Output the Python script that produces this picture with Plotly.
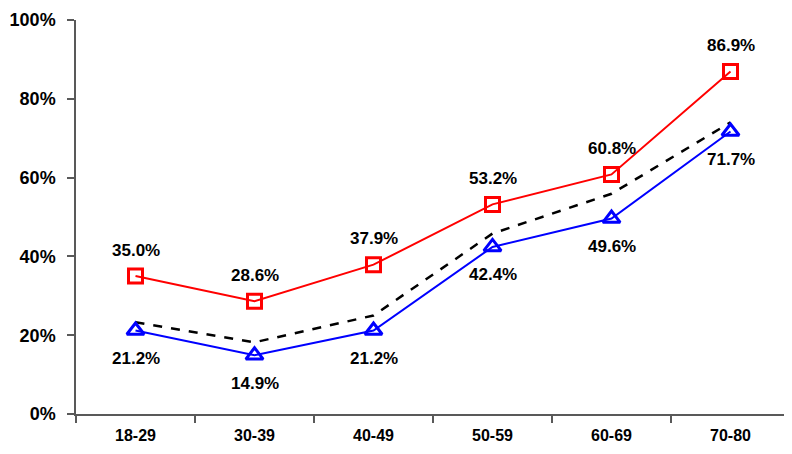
import plotly.graph_objects as go

categories = ["18-29", "30-39", "40-49", "50-59", "60-69", "70-80"]
red_values = [35.0, 28.6, 37.9, 53.2, 60.8, 86.9]
blue_values = [21.2, 14.9, 21.2, 42.4, 49.6, 71.7]
dashed_values = [23.3, 18.2, 25.0, 45.8, 55.9, 74.0]
y_ticks = [0, 20, 40, 60, 80, 100]

fig = go.Figure()
fig.add_trace(go.Scatter(
    x=categories, y=dashed_values, mode="lines",
    line=dict(color="black", width=2.5, dash="dash"), hoverinfo="skip"))
fig.add_trace(go.Scatter(
    x=categories, y=red_values, mode="lines+markers",
    line=dict(color="#FF0000", width=2),
    marker=dict(symbol="square-open", size=14, color="#FF0000", line=dict(width=3, color="#FF0000"))))
fig.add_trace(go.Scatter(
    x=categories, y=blue_values, mode="lines+markers",
    line=dict(color="#0000FF", width=2),
    marker=dict(symbol="triangle-up-open", size=15, color="#0000FF", line=dict(width=3, color="#0000FF"))))

lab_font = dict(family="Liberation Sans", size=17, color="black")
for c, v in zip(categories, red_values):
    fig.add_annotation(x=c, y=v, text=f"<b>{v:.1f}%</b>", showarrow=False, yshift=26, font=lab_font)
for c, v in zip(categories, blue_values):
    fig.add_annotation(x=c, y=v, text=f"<b>{v:.1f}%</b>", showarrow=False, yshift=-28, font=lab_font)

fig.update_layout(
    width=784, height=446,
    margin=dict(l=68, r=2, t=12, b=40),
    paper_bgcolor="white", plot_bgcolor="white",
    showlegend=False,
    font=dict(family="Liberation Sans", color="black"),
)
fig.update_xaxes(
    type="category", range=[-0.5, 5.5], automargin=False,
    showline=True, linecolor="#595959", linewidth=1.5,
    ticks="outside", ticklen=7, tickcolor="#595959", tickwidth=1.5,
    tickson="boundaries", showgrid=False,
    tickfont=dict(family="Liberation Sans", size=16, color="black"),
    ticklabelstandoff=6,
    tickprefix="<b>", ticksuffix="</b>",
)
fig.update_yaxes(
    range=[0, 100], tickvals=y_ticks, automargin=False,
    ticktext=[f"<b>{t}%</b>" for t in y_ticks],
    showline=True, linecolor="#595959", linewidth=1.5,
    ticks="outside", ticklen=7, tickcolor="#595959", tickwidth=1.5,
    showgrid=False, zeroline=False,
    tickfont=dict(family="Liberation Sans", size=18, color="black"),
    ticklabelstandoff=8, ticklabeloverflow="allow",
)

fig.write_html("out.html")
